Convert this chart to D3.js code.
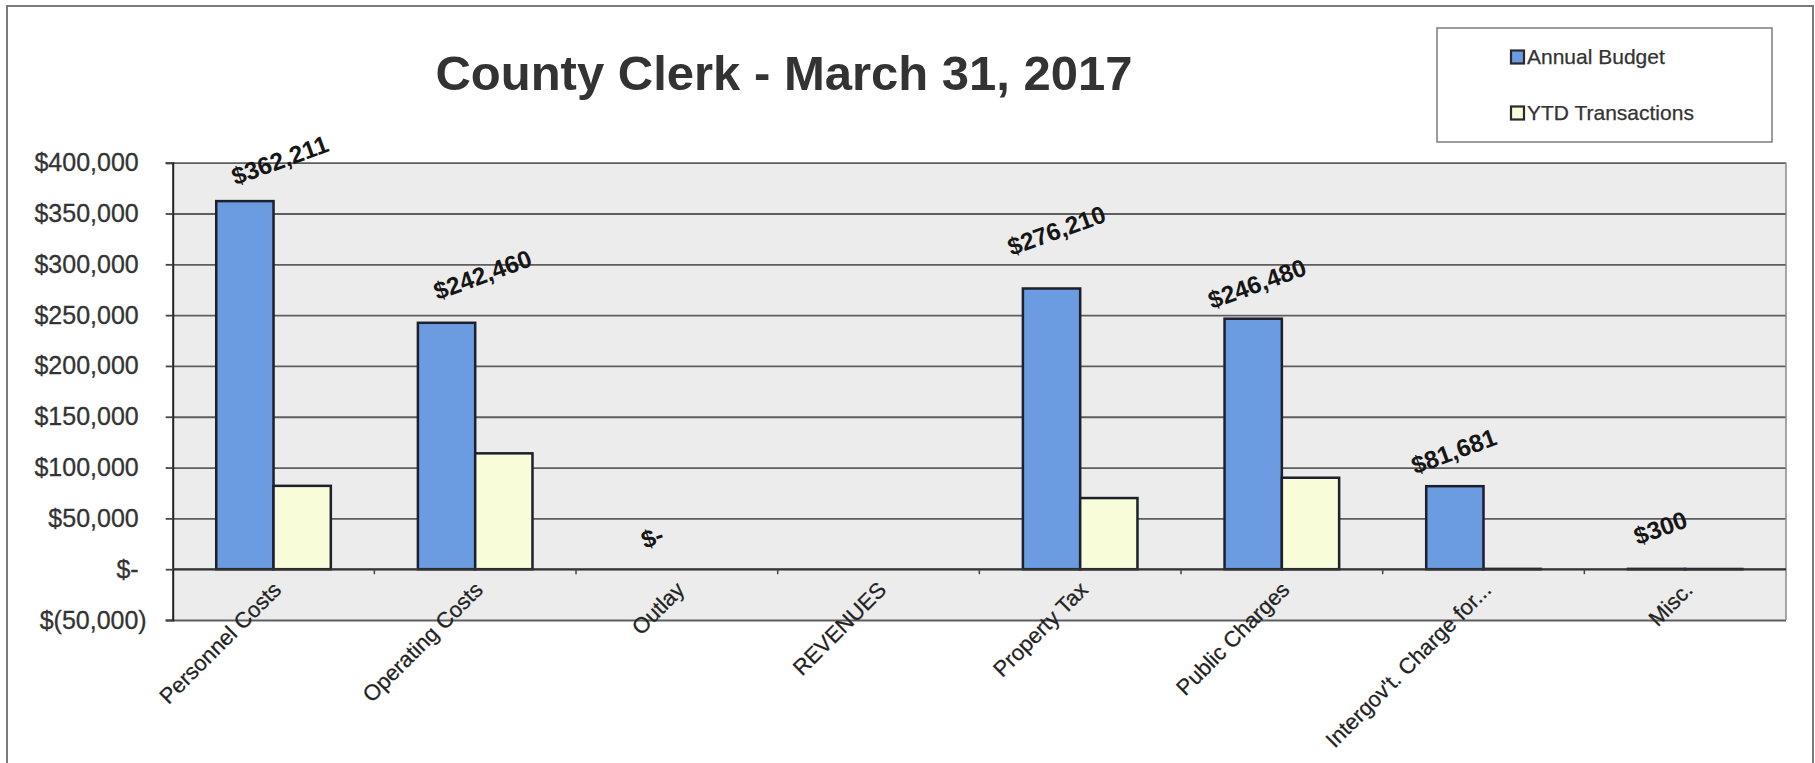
<!DOCTYPE html>
<html>
<head>
<meta charset="utf-8">
<script src="https://cdn.jsdelivr.net/npm/d3@7"></script>
<style>
  html, body { margin: 0; padding: 0; background: #fff; }
  svg { display: block; font-family: "Liberation Sans", Arial, Helvetica, sans-serif; }
</style>
</head>
<body>
<svg id="chart" width="1815" height="763"></svg>
<script>
// ---- data ----
const chartTitle = "County Clerk - March 31, 2017";
const categories = ["Personnel Costs", "Operating Costs", "Outlay", "REVENUES",
                    "Property Tax", "Public Charges", "Intergov't. Charge for...", "Misc."];
const seriesNames = ["Annual Budget", "YTD Transactions"];
const annualBudget = [362211, 242460, 0, null, 276210, 246480, 81681, 300];
const ytdTransactions = [82000, 114000, 0, null, 70000, 90000, 300, 200];
const yTickValues = [-50000, 0, 50000, 100000, 150000, 200000, 250000, 300000, 350000, 400000];

// ---- layout ----
const W = 1815, H = 763;
const plot = { left: 172.7, right: 1786, top: 162.7, bottom: 620 };
const colors = { annual: "#6b9be0", ytd: "#f8fcd9", barStroke: "#1d1f2b",
                 plotBg: "#ececec", grid: "#5e5e5e", text: "#333333" };

// hand-placed data-label offsets (label centre relative to top centre of the bar)
const labelOffset = {
  "Personnel Costs": [35, -41], "Operating Costs": [36, -48], "Outlay": [4, -32],
  "Property Tax": [5, -58], "Public Charges": [4, -35],
  "Intergov't. Charge for...": [-1, -35], "Misc.": [4, -41]
};

const svg = d3.select("#chart");
const money = d3.format(",.0f");
const acct = v => v === 0 ? "$-" : (v < 0 ? "$(" + money(-v) + ")" : "$" + money(v));

// outer frame
svg.append("rect").attr("x", 7).attr("y", 6).attr("width", 1806).attr("height", 800)
  .attr("fill", "#fff").attr("stroke", "#7a7a7a").attr("stroke-width", 2);

// scales
const x = d3.scaleBand().domain(categories).range([plot.left, plot.right]).padding(0);
const xs = d3.scaleBand().domain(seriesNames).range([0, x.bandwidth()])
  .paddingInner(0).paddingOuter(0.76);
const y = d3.scaleLinear().domain([-50000, 400000]).range([plot.bottom, plot.top]);

// plot background
svg.append("rect")
  .attr("x", plot.left).attr("y", plot.top)
  .attr("width", plot.right - plot.left).attr("height", plot.bottom - plot.top)
  .attr("fill", colors.plotBg);

// gridlines
const grid = svg.append("g").attr("transform", `translate(${plot.left},0)`)
  .call(d3.axisLeft(y).tickValues(yTickValues).tickSize(-(plot.right - plot.left)).tickFormat(""));
grid.select(".domain").remove();
grid.selectAll("line").attr("stroke", colors.grid).attr("stroke-width", 1.8);

// right border of the plot
svg.append("line").attr("x1", plot.right).attr("x2", plot.right)
  .attr("y1", plot.top).attr("y2", plot.bottom)
  .attr("stroke", "#8a8a8a").attr("stroke-width", 1.5);

// y axis
const yAxis = svg.append("g").attr("transform", `translate(${plot.left},0)`)
  .call(d3.axisLeft(y).tickValues(yTickValues).tickSize(7).tickPadding(19).tickFormat(acct));
yAxis.select(".domain").attr("stroke", "#222").attr("stroke-width", 2);
yAxis.selectAll(".tick line").attr("stroke", "#444").attr("stroke-width", 1.8);
yAxis.selectAll(".tick text")
  .attr("font-size", 25).attr("fill", colors.text)
  .attr("stroke", colors.text).attr("stroke-width", 0.3)
  .attr("font-family", "'Liberation Sans', Arial, sans-serif")
  .attr("x", d => d >= 0 ? -(7 + 19 + 8) : -(7 + 19));

// bars
const groups = svg.append("g").selectAll("g")
  .data(categories).join("g")
  .attr("transform", d => `translate(${x(d)},0)`);

const barData = (c, i) => [
  { key: seriesNames[0], value: annualBudget[i], fill: colors.annual },
  { key: seriesNames[1], value: ytdTransactions[i], fill: colors.ytd }
].filter(b => b.value !== null);

groups.selectAll("rect")
  .data((c, i) => barData(c, i))
  .join("rect")
  .attr("x", b => xs(b.key))
  .attr("width", xs.bandwidth())
  .attr("y", b => y(Math.max(0, b.value)))
  .attr("height", b => Math.abs(y(b.value) - y(0)))
  .attr("fill", b => b.fill)
  .attr("stroke", colors.barStroke)
  .attr("stroke-width", 2.5);

// category axis along the zero line
svg.append("line").attr("x1", plot.left).attr("x2", plot.right)
  .attr("y1", y(0)).attr("y2", y(0))
  .attr("stroke", "#333").attr("stroke-width", 2);
svg.append("g").selectAll("line")
  .data(categories.slice(1)).join("line")
  .attr("x1", d => x(d)).attr("x2", d => x(d))
  .attr("y1", y(0)).attr("y2", y(0) + 5)
  .attr("stroke", "#444").attr("stroke-width", 1.5);

svg.append("g").selectAll("text")
  .data(categories).join("text")
  .attr("transform", d => `translate(${x(d) + x.bandwidth() / 2 + 9},${y(0) + 22}) rotate(-45)`)
  .attr("text-anchor", "end")
  .attr("font-size", 22)
  .attr("fill", "#222")
  .attr("stroke", "#222").attr("stroke-width", 0.25)
  .text(d => d);

// data labels on the annual budget series
svg.append("g").selectAll("text")
  .data(categories.map((c, i) => ({ c, v: annualBudget[i] })).filter(d => d.v !== null))
  .join("text")
  .attr("transform", d => {
    const off = labelOffset[d.c] || [4, -36];
    const cx = x(d.c) + xs(seriesNames[0]) + xs.bandwidth() / 2 + off[0];
    const cy = y(Math.max(0, d.v)) + off[1];
    return `translate(${cx},${cy}) rotate(-20)`;
  })
  .attr("text-anchor", "middle")
  .attr("dy", "0.35em")
  .attr("font-size", 24.5)
  .attr("font-weight", "bold")
  .attr("fill", "#161616")
  .text(d => acct(d.v));

// title
svg.append("text")
  .attr("x", 784).attr("y", 90)
  .attr("text-anchor", "middle")
  .attr("font-size", 49).attr("font-weight", "bold")
  .attr("fill", colors.text)
  .text(chartTitle);

// legend
const legend = svg.append("g");
legend.append("rect")
  .attr("x", 1437).attr("y", 28).attr("width", 335).attr("height", 114)
  .attr("fill", "#fff").attr("stroke", "#7d7d7d").attr("stroke-width", 1.5);
const legendItems = legend.selectAll("g.item")
  .data(seriesNames).join("g").attr("class", "item")
  .attr("transform", (d, i) => `translate(1511,${57 + i * 56})`);
legendItems.append("rect")
  .attr("x", 0).attr("y", -6.5).attr("width", 13).attr("height", 13)
  .attr("fill", (d, i) => i === 0 ? colors.annual : colors.ytd)
  .attr("stroke", "#2a2a2a").attr("stroke-width", 2.2);
legendItems.append("text")
  .attr("x", 16).attr("dy", "0.35em")
  .attr("font-size", 21).attr("fill", colors.text)
  .attr("stroke", colors.text).attr("stroke-width", 0.25)
  .text(d => d);
</script>
</body>
</html>
